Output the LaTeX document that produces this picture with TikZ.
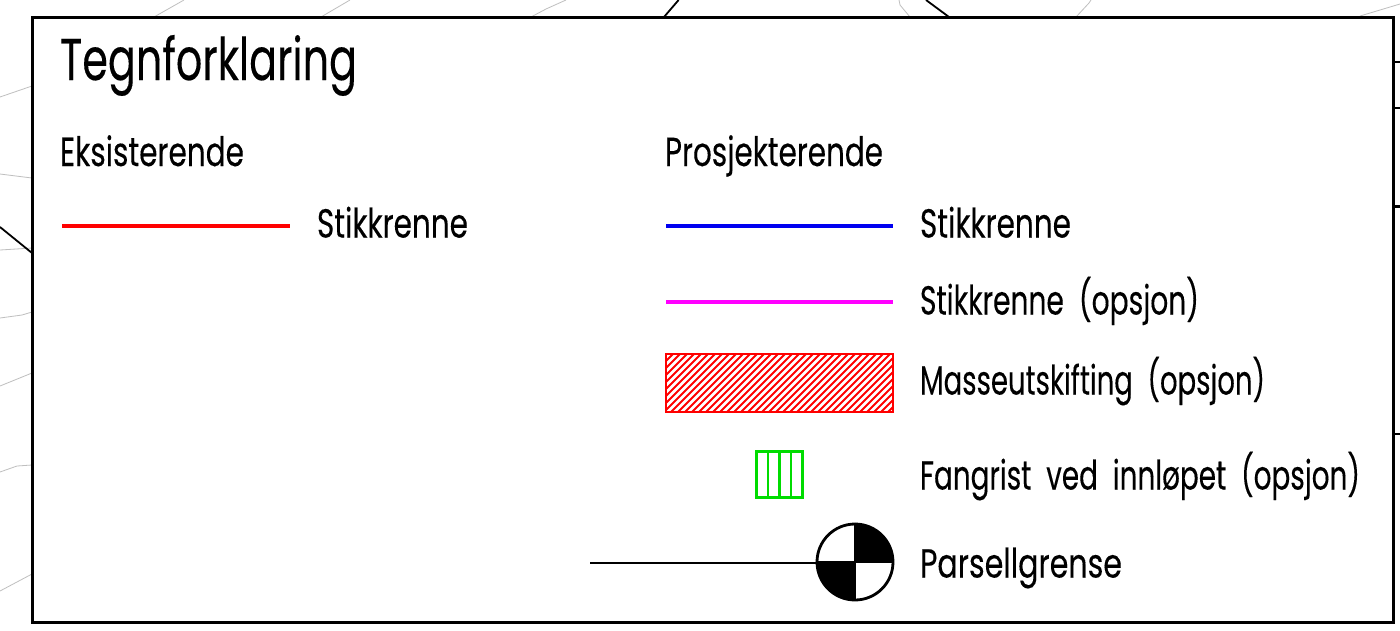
\documentclass[tikz,border=0pt]{standalone}
\usepackage{fontspec}
\usepackage{graphicx}
\setmainfont{Poppins}[WordSpace=2.0,FakeBold=0.25]
\definecolor{contour}{gray}{0.75}
\definecolor{hatchred}{RGB}{255,0,0}
\definecolor{gridgreen}{RGB}{0,220,0}
\definecolor{pipeblue}{RGB}{0,0,240}
\definecolor{pipemag}{RGB}{255,0,255}
\newcommand{\fitw}[2]{\resizebox{#1pt}{\height}{#2}}
\tikzset{
  bgthin/.style={draw=contour,line width=0.8pt},
  bgblack/.style={draw=black,line width=1.8pt},
  frameline/.style={draw=black,line width=3pt},
  pipe/.style={line width=3.6pt},
  lab/.style={anchor=base west,inner sep=0pt,outer sep=0pt,font=\fontsize{40.5}{40}\selectfont},
  ttl/.style={anchor=base west,inner sep=0pt,outer sep=0pt,font=\fontsize{59}{58}\selectfont}
}
\begin{document}
\begin{tikzpicture}[x=1pt,y=-1pt]
\useasboundingbox (0,0) rectangle (1400,630);
\fill[white] (0,0) rectangle (1400,630);
% background map remnants
\draw[bgthin] (184,0) -- (154,17);
\draw[bgthin] (350,0) -- (321,17);
\draw[bgthin] (566,0) -- (546,9) -- (531,17);
\draw[bgthin] (899,0) -- (900,5) -- (910,17);
\draw[bgthin] (1091,0) -- (1089,3) -- (1076,17);
\draw[bgthin] (1400,4) -- (1360,16);
\draw[bgthin] (0,97) -- (32,86);
\draw[bgthin] (0,174) -- (32,178);
\draw[bgthin] (0,250) -- (32,248);
\draw[bgthin] (0,318) -- (22,315) -- (32,312);
\draw[bgthin] (0,386) -- (32,373);
\draw[bgthin] (0,472) -- (17,466) -- (32,465);
\draw[bgthin] (0,591) -- (32,574);
\draw[bgblack] (678.6,0) -- (664,17);
\draw[bgblack] (926,0) -- (949,17);
\draw[bgblack] (0,227) -- (32,253);
% frame
\draw[frameline,fill=white] (32,17.5) rectangle (1393.5,622);
\foreach \yy/\lw in {62/1.6,108/1.6,206/3,434/1.8}
  \draw[line width=\lw pt] (1393.5,\yy) -- (1400,\yy);
% texts
\node[ttl] (title) at (60,80) {\fitw{297}{Tegnforklaring}};
\node[lab] (eks) at (60,166) {\fitw{184}{Eksisterende}};
\node[lab] (pro) at (665,166) {\fitw{218}{Prosjekterende}};
\node[lab] (l1) at (317,237.5) {\fitw{151}{Stikkrenne}};
\node[lab] (r1) at (920,237.5) {\fitw{151}{Stikkrenne}};
\node[lab] (r2) at (920,314.5) {\fitw{279}{Stikkrenne (opsjon)}};
\node[lab] (r3) at (920,394.5) {\fitw{345}{Masseutskifting (opsjon)}};
\node[lab] (r4) at (920,489.5) {\fitw{440}{Fangrist ved innløpet (opsjon)}};
\node[lab] (r5) at (920,577.5) {\fitw{202}{Parsellgrense}};
% line samples
\draw[pipe,hatchred] (62,226) -- (290,226);
\draw[pipe,pipeblue] (666,226) -- (893,226);
\draw[pipe,pipemag] (666,302) -- (893,302);
% hatched box
\begin{scope}
\clip (666,354) rectangle (893,412);
\foreach \k in {0,7,...,300}
  \draw[hatchred,line width=1.9pt] (666+\k-58,412) -- (666+\k,354);
\end{scope}
\draw[hatchred,line width=2.4pt] (666,354) rectangle (893,412);
% grid
\draw[gridgreen,line width=3.4pt] (756.5,451.5) rectangle (802.5,497.5);
\foreach \xx in {768,779.5,791}
  \draw[gridgreen,line width=2.8pt] (\xx,451.5) -- (\xx,497.5);
% boundary marker
\node[circle,draw=black,line width=2.8pt,fill=white,minimum size=76pt,inner sep=0pt] (mark) at (855,562) {};
\fill[black] (855,562) -- (893,562) arc[start angle=0,end angle=90,radius=38pt] -- cycle;
\fill[black] (855,562) -- (817,562) arc[start angle=180,end angle=270,radius=38pt] -- cycle;
\coordinate (limit) at (590,563);
\draw[line width=2.6pt] (limit) -- (limit -| mark.west);
\draw[line width=1.4pt] (mark.north) -- (mark.south);
\draw[line width=1.4pt] (mark.west) -- (mark.east);
\end{tikzpicture}
\end{document}
